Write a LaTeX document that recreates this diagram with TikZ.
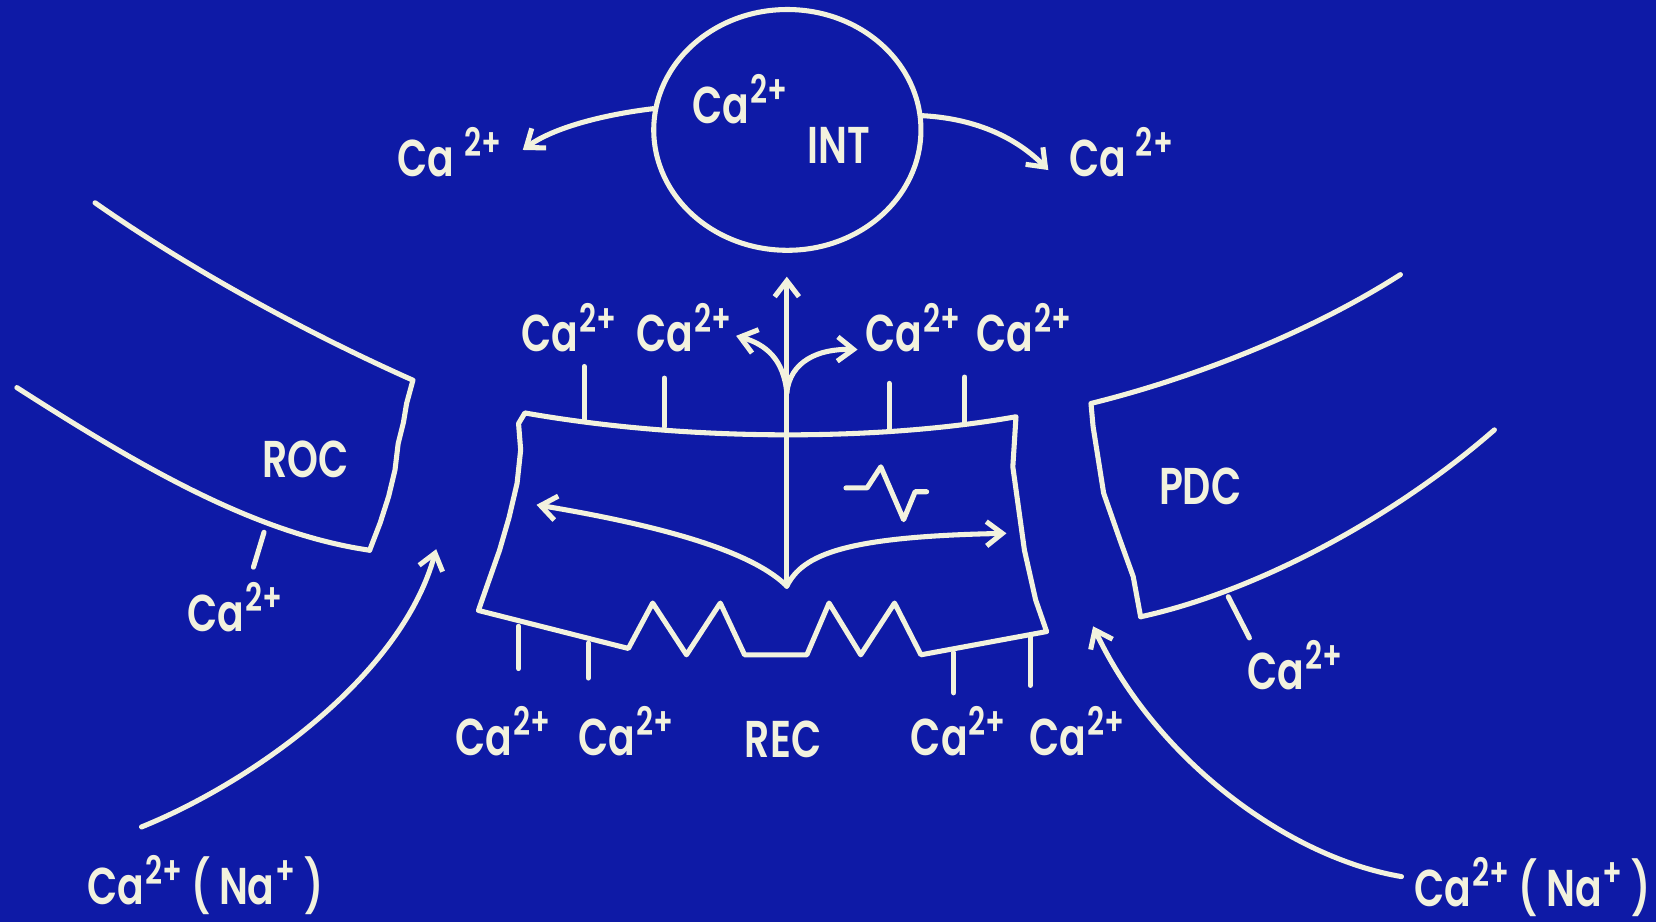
\documentclass[tikz,border=0pt]{standalone}
\usepackage{fontspec}
\setmainfont{Poppins}[FakeStretch=0.76, UprightFont={* Medium}, BoldFont={* SemiBold}]
\usetikzlibrary{arrows.meta,shapes.geometric}
\definecolor{bg}{RGB}{14,26,166}
\definecolor{fg}{RGB}{242,242,222}
\newcommand{\upp}[1]{\kern0.6pt\raisebox{0.38em}{\fontsize{18.5}{18.5}\selectfont #1}}
\begin{document}
\begin{tikzpicture}[x=0.5pt,y=-0.5pt,
  fg, line width=2.4pt, line cap=round, line join=round,
  arr/.style={-{Straight Barb[length=7.5pt,width=11.5pt]}},
  lbl/.style={anchor=base west, inner sep=0pt, text=fg, font=\fontsize{24.5}{24.5}\selectfont\bfseries},
]
\fill[bg] (0,0) rectangle (1568,873);
\useasboundingbox (0,0) rectangle (1568,873);

% ---- INT store ----
\node[draw=fg, ellipse, minimum width=126.5pt, minimum height=114pt, inner sep=0pt] (int) at (745.5,123) {};
\node[lbl] (intca) at (653,117) {Ca\upp{2+}};
\node[lbl] (intname) at (762,155) {INT};
\node[lbl] (caL) at (374,167) {Ca\,\upp{2+}};
\node[lbl] (caR) at (1010,167) {Ca\,\upp{2+}};
\coordinate (tipL) at (495,142);
\coordinate (tipR) at (992.6,161);
\draw[arr] (int.171) .. controls (575,108) and (525,120) .. (tipL);
\draw[arr] (int.6) .. controls (920,112) and (960,128) .. (tipR);

% ---- top row labels ----
\node[lbl] (t1) at (491,333) {Ca\upp{2+}};
\node[lbl] (t2) at (600,333) {Ca\upp{2+}};
\node[lbl] (t3) at (817,333) {Ca\upp{2+}};
\node[lbl] (t4) at (922,333) {Ca\upp{2+}};
\draw (553,347) -- (553,398);
\draw (629,358) -- (629,404);
\draw (842,363) -- (842,407);
\draw (913.5,357) -- (913.5,401);

% ---- REC box ----
\draw (497,391) .. controls (650,418) and (830,418) .. (962,394.6)
  -- (959,442) -- (970,521) -- (980.6,568) -- (991,598)
  -- (872,620) -- (847,571) -- (815,620) -- (785,571) -- (764,620)
  -- (705,620) -- (682,571) -- (650,620) -- (618,571) -- (595,614)
  -- (453,578) -- (473,521) -- (482,490) -- (489.6,457.6) -- (493,426) -- (491,401) -- cycle;
% ticks under REC
\draw (491,593) -- (491,633);
\draw (557,609) -- (557,642);
\draw (903,618) -- (903,656);
\draw (975.5,603) -- (975.5,649);
% stem and branches
\coordinate (stemB) at (745,555);
\coordinate (stemT) at (745,262);
\coordinate (fork) at (745,372);
\draw[arr] (stemB) -- (stemT);
\draw[arr] (fork) .. controls (742,340) and (725,326) .. (697,318);
\draw[arr] (fork) .. controls (748,342) and (775,330) .. (812,331);
\draw[arr] (stemB) .. controls (715,525) and (640,500) .. (508,478);
\draw[arr] (stemB) .. controls (760,525) and (800,508) .. (953,505);
% waveform
\draw (801,462) -- (821,462) -- (834,442) -- (855.6,492) -- (866.5,465.6) -- (877.4,465.6);

% bottom row labels
\node[lbl] (b1) at (429,715) {Ca\upp{2+}};
\node[lbl] (b2) at (545,715) {Ca\upp{2+}};
\node[lbl] (rec) at (703,717) {REC};
\node[lbl] (b3) at (860,715) {Ca\upp{2+}};
\node[lbl] (b4) at (972,715) {Ca\upp{2+}};

% ---- ROC ----
\draw (90,192) .. controls (180,255) and (290,315) .. (391,360)
  -- (385,382) -- (382,400) -- (377,420) -- (374,445) -- (368,470) -- (360,495) -- (350,521);
\draw (16,367) .. controls (130,440) and (240,505) .. (350,521);
\draw (250,504) -- (240,537);
\node[lbl] (roc) at (246,452) {ROC};
\node[lbl] (caroc) at (175,598) {Ca\upp{2+}};

% ---- PDC ----
\draw (1326,260) .. controls (1240,315) and (1130,358) .. (1033,382)
  -- (1035,404) -- (1045,467) -- (1060,510) -- (1073,546) -- (1080,584);
\draw (1080,584) .. controls (1190,560) and (1320,490) .. (1415,407);
\draw (1163,565) -- (1183,604);
\node[lbl] (pdc) at (1095,478) {PDC};
\node[lbl] (capdc) at (1179,653) {Ca\upp{2+}};

% ---- external entry ----
\node[lbl] (naL) at (80.5,856) {Ca\upp{2+}\,(\,Na\upp{+}\,)};
\node[lbl] (naR) at (1337,858) {Ca\upp{2+}\,(\,Na\upp{+}\,)};
\coordinate (bigLs) at (134,783);
\coordinate (bigLt) at (413,520);
\coordinate (bigRs) at (1327,830);
\coordinate (bigRt) at (1035,593);
\draw[arr] (bigLs) .. controls (240,740) and (380,640) .. (bigLt);
\draw[arr] (bigRs) .. controls (1220,812) and (1095,720) .. (bigRt);
\end{tikzpicture}
\end{document}
